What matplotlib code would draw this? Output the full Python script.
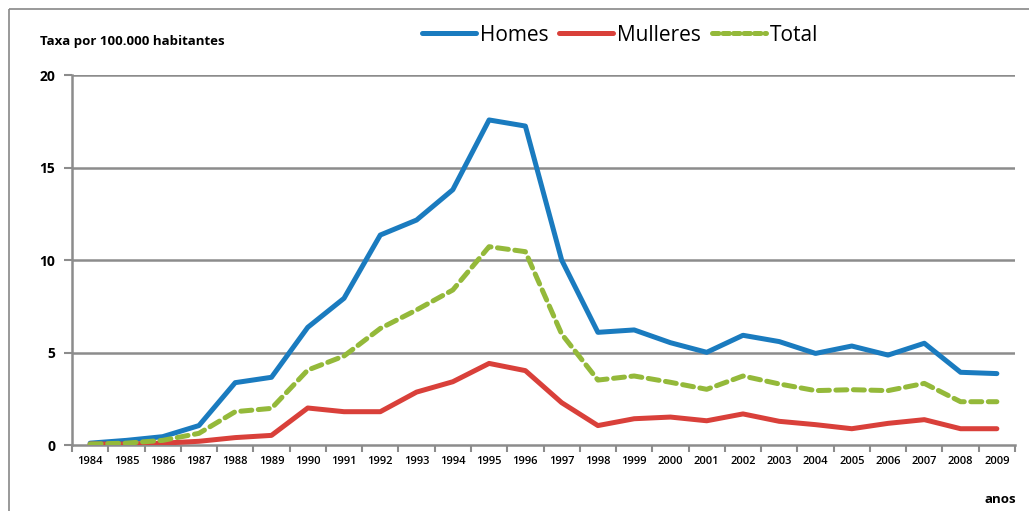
import matplotlib
matplotlib.use("Agg")
import matplotlib.pyplot as plt
from matplotlib.lines import Line2D

plt.rcParams['font.family'] = ['Open Sans', 'DejaVu Sans']

years = [str(y) for y in range(1984, 2010)]
homes = [0.1, 0.25, 0.45, 1.05, 3.37, 3.66, 6.36, 7.93, 11.35, 12.16, 13.8, 17.57, 17.24,
         10.0, 6.09, 6.22, 5.53, 5.01, 5.93, 5.59, 4.95, 5.35, 4.86, 5.5, 3.93, 3.86]
mulleres = [0.05, 0.05, 0.1, 0.2, 0.4, 0.52, 2.0, 1.8, 1.8, 2.86, 3.42, 4.41, 4.02,
            2.29, 1.05, 1.42, 1.51, 1.31, 1.68, 1.28, 1.1, 0.88, 1.17, 1.37, 0.88, 0.88]
total = [0.05, 0.1, 0.25, 0.63, 1.8, 1.98, 4.05, 4.81, 6.3, 7.3, 8.38, 10.72, 10.45,
         6.0, 3.51, 3.73, 3.39, 3.01, 3.73, 3.3, 2.94, 2.99, 2.94, 3.33, 2.34, 2.34]
yticks = [0, 5, 10, 15, 20]

W, H = 1030, 511
fig = plt.figure(figsize=(W / 100, H / 100), dpi=100)
ax = fig.add_axes([72 / W, 1 - 445 / H, (1015 - 72) / W, (445 - 75) / H])

x = list(range(len(years)))
c_h, c_m, c_t = '#1a7bbf', '#d9403a', '#94b93a'
ax.plot(x, homes, color=c_h, lw=3.6, solid_capstyle='round', solid_joinstyle='round', zorder=3)
ax.plot(x, mulleres, color=c_m, lw=3.6, solid_capstyle='round', solid_joinstyle='round', zorder=3)
ax.plot(x, total, color=c_t, lw=3.6, dashes=(2.2, 1.3), dash_capstyle='round', zorder=4)

ax.set_xlim(-0.5, len(years) - 0.5)
ax.set_ylim(0, 20)
ax.set_yticks(yticks)
ax.set_yticklabels([str(v) for v in yticks], fontsize=10, fontweight='bold')
ax.set_xticks(x)
ax.set_xticklabels(years, fontsize=8, fontweight='semibold')
ax.set_xticks([i - 0.5 for i in range(len(years) + 1)], minor=True)
ax.tick_params(axis='x', which='major', length=0, pad=8)
ax.tick_params(axis='x', which='minor', length=5, width=1.5, color='#8c8c8c')
ax.tick_params(axis='y', length=6, width=1.5, color='#8c8c8c', pad=6)

for v in yticks[1:]:
    ax.axhline(v, color='#8c8c8c', lw=1.8, zorder=1)
for s in ['top', 'right']:
    ax.spines[s].set_visible(False)
for s in ['left', 'bottom']:
    ax.spines[s].set_color('#8c8c8c')
    ax.spines[s].set_linewidth(1.8)

handles = [Line2D([], [], color=c_h, lw=3.6, solid_capstyle='round'),
           Line2D([], [], color=c_m, lw=3.6, solid_capstyle='round'),
           Line2D([], [], color=c_t, lw=3.6, dashes=(1.3, 0.8), dash_capstyle='round')]
fig.legend(handles, ['Homes', 'Mulleres', 'Total'], loc='center', bbox_to_anchor=(620 / W, 1 - 35 / H),
           ncol=3, frameon=False, fontsize=15, handlelength=2.6, handletextpad=0.2,
           columnspacing=0.5)

fig.text(40 / W, 1 - 41 / H, 'Taxa por 100.000 habitantes', fontsize=9.5, fontweight='bold',
         va='center', ha='left')
fig.text(1000 / W, 1 - 499 / H, 'anos', fontsize=9.5, fontweight='bold', va='center', ha='center')

# outer frame: top and left edges only
fig.add_artist(Line2D([9 / W, 1029 / W], [1 - 9 / H, 1 - 9 / H], transform=fig.transFigure,
                      color='#888888', lw=1.2, solid_capstyle='butt'))
fig.add_artist(Line2D([9 / W, 9 / W], [0.0, 1 - 9 / H], transform=fig.transFigure,
                      color='#888888', lw=1.2, solid_capstyle='butt'))

fig.savefig('out.png', dpi=100)
